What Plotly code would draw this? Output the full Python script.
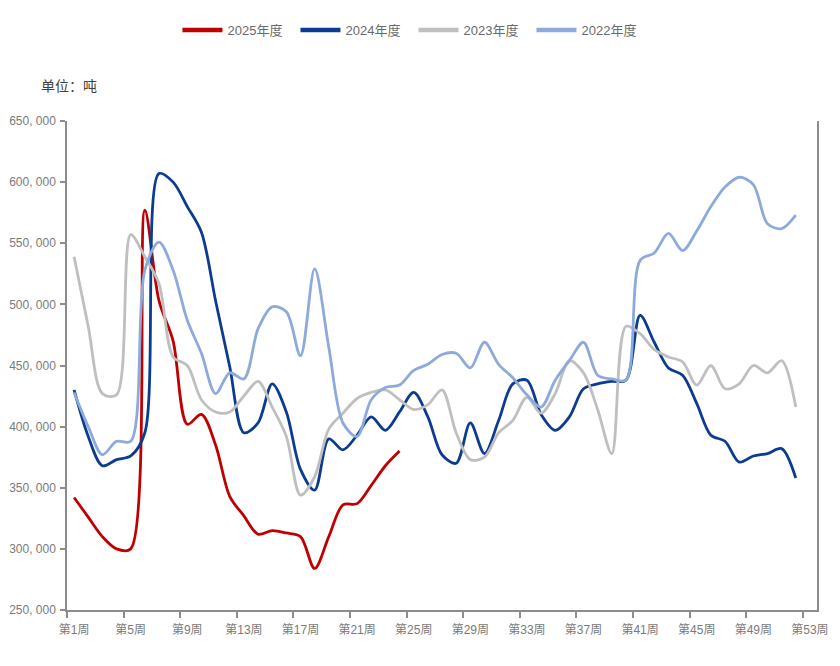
import plotly.graph_objects as go

weeks = list(range(1, 54))
tick_weeks = [1, 5, 9, 13, 17, 21, 25, 29, 33, 37, 41, 45, 49, 53]
tick_labels = [f"第{w}周" for w in tick_weeks]
y_ticks = [250000, 300000, 350000, 400000, 450000, 500000, 550000, 600000, 650000]
y_labels = [f"{v // 1000}, 000" for v in y_ticks]

s2025 = [342, 326, 310, 300, 300, 577, 503, 470, 402, 410, 385, 343, 327, 312, 315,
         313, 310, 284, 310, 336, 337, 352, 368, 380]
s2024 = [430, 392, 368, 373, 376, 395, 607, 600, 580, 559, 503, 449, 395, 403, 435,
         412, 365, 348, 390, 381, 393, 408, 397, 412, 428, 408, 377, 370, 403, 378,
         405, 435, 438, 410, 397, 408, 431, 435, 437, 438, 491, 469, 448, 442, 419,
         393, 388, 371, 376, 378, 382, 358]
s2023 = [539, 482, 427, 426, 557, 539, 517, 457, 450, 422, 412, 412, 425, 437, 416,
         392, 344, 359, 398, 411, 423, 428, 430, 422, 414, 418, 430, 395, 373, 375,
         395, 405, 424, 411, 427, 454, 444, 414, 378, 482, 476, 463, 457, 453, 434,
         450, 431, 435, 450, 444, 454, 416]
s2022 = [428, 400, 377, 388, 388, 528, 551, 528, 487, 460, 427, 444, 439, 480, 498,
         494, 458, 529, 465, 403, 392, 422, 432, 434, 446, 451, 459, 460, 448, 469,
         451, 440, 426, 416, 438, 454, 469, 442, 439, 438, 536, 542, 558, 544, 560,
         580, 596, 604, 598, 566, 562, 573]

series = [
    ("2025年度", s2025, "#C00000"),
    ("2024年度", s2024, "#0B3C8F"),
    ("2023年度", s2023, "#BFBFBF"),
    ("2022年度", s2022, "#8EA9DB"),
]

fig = go.Figure()
for name, vals, color in series:
    fig.add_trace(go.Scatter(
        x=weeks[:len(vals)], y=[v * 1000 for v in vals], mode="lines", name=name,
        line=dict(color=color, width=2.8, shape="spline", smoothing=0.9),
        showlegend=False, hoverinfo="x+y",
    ))
for name, vals, color in series:
    fig.add_trace(go.Scatter(
        x=[None], y=[None], mode="lines", name=name,
        line=dict(color=color, width=4.5), showlegend=True,
    ))

fig.update_layout(
    width=840, height=666,
    margin=dict(l=59, r=31, t=113, b=64),
    paper_bgcolor="white", plot_bgcolor="white",
    font=dict(family="Liberation Sans, Noto Sans CJK SC, sans-serif", color="#707070", size=12),
    legend=dict(
        orientation="h", xref="container", yref="container",
        x=0.4827, xanchor="center", y=1 - 22 / 666, yanchor="middle",
        font=dict(size=13, color="#6a6a6a"),
        entrywidth=63, entrywidthmode="pixels",
        itemwidth=40, bgcolor="rgba(0,0,0,0)",
    ),
    xaxis=dict(
        range=[0.5, 53.5], tickmode="array", tickvals=tick_weeks, ticktext=tick_labels,
        ticks="", showgrid=False, zeroline=False, automargin=False,
        ticklabelstandoff=8,
        showline=True, linecolor="#8c8c8c", linewidth=1.5,
        tickfont=dict(size=12, color="#7a7a7a"),
        minor=dict(tickmode="array", tickvals=[w - 0.5 for w in tick_weeks],
                   ticks="outside", ticklen=6, tickcolor="#8c8c8c", tickwidth=1.5,
                   showgrid=False),
    ),
    yaxis=dict(
        range=[250000, 650000], tickmode="array", tickvals=y_ticks, ticktext=y_labels,
        ticks="outside", ticklen=5, tickcolor="#8c8c8c", tickwidth=1.5,
        showgrid=False, zeroline=False, automargin=False,
        ticklabelstandoff=2,
        showline=True, linecolor="#8c8c8c", linewidth=1.5, mirror=True,
        tickfont=dict(size=12, color="#7a7a7a"),
    ),
)

fig.add_annotation(
    text="单位：吨", xref="paper", yref="paper",
    x=-0.038, xanchor="left", y=1.073, yanchor="middle",
    showarrow=False, font=dict(size=14, color="#404040",
                               family="Noto Sans CJK SC, sans-serif"),
)

fig.write_html("out.html")
